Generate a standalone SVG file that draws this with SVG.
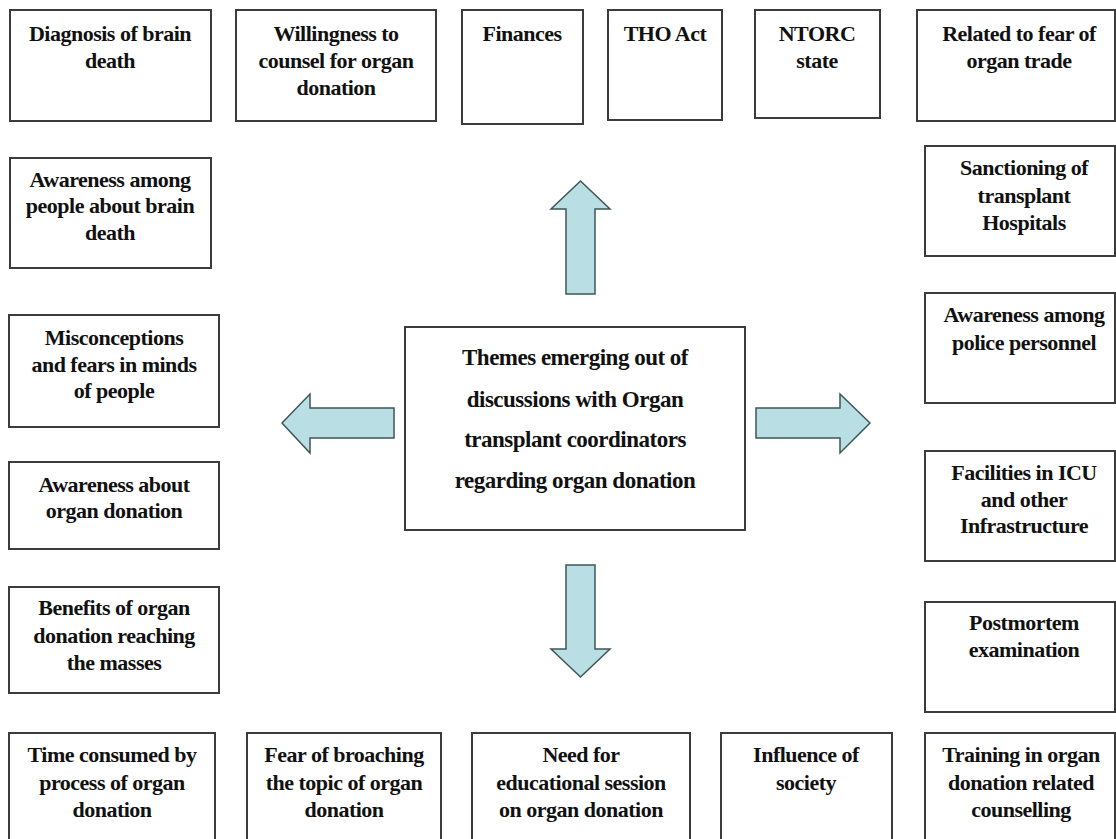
<svg xmlns="http://www.w3.org/2000/svg" width="1116" height="839" viewBox="0 0 1116 839">
<style>
.box{fill:#ffffff;stroke:#3c3c3c;stroke-width:2}
.t{font-family:"Liberation Serif","Times New Roman",serif;font-weight:bold;font-size:22px;letter-spacing:-0.5px;fill:#111;text-anchor:middle}
.c{font-size:23px}
.arr{fill:#b9dfe4;stroke:#3f5656;stroke-width:1.5;stroke-linejoin:miter}
</style>
<rect width="1116" height="839" fill="#ffffff"/>
<g id="n-diagnosis"><rect class="box" x="10" y="10" width="201" height="111"/><text class="t" x="110" y="41">Diagnosis of brain</text><text class="t" x="110" y="68">death</text></g>
<g id="n-willingness"><rect class="box" x="236" y="10" width="200" height="111"/><text class="t" x="336" y="41">Willingness to</text><text class="t" x="336" y="68">counsel for organ</text><text class="t" x="336" y="95">donation</text></g>
<g id="n-finances"><rect class="box" x="462" y="10" width="121" height="114"/><text class="t" x="522" y="41">Finances</text></g>
<g id="n-tho"><rect class="box" x="608" y="10" width="114" height="110"/><text class="t" x="665" y="41">THO Act</text></g>
<g id="n-ntorc"><rect class="box" x="755" y="10" width="125" height="108"/><text class="t" x="817" y="41">NTORC</text><text class="t" x="817" y="68">state</text></g>
<g id="n-trade"><rect class="box" x="917" y="10" width="198" height="111"/><text class="t" x="1019" y="41">Related to fear of</text><text class="t" x="1019" y="68">organ trade</text></g>
<g id="n-awareness-people"><rect class="box" x="10" y="158" width="201" height="110"/><text class="t" x="110" y="187">Awareness among</text><text class="t" x="110" y="213">people about brain</text><text class="t" x="110" y="240">death</text></g>
<g id="n-sanctioning"><rect class="box" x="925" y="146" width="190" height="110"/><text class="t" x="1024" y="175">Sanctioning of</text><text class="t" x="1024" y="203">transplant</text><text class="t" x="1024" y="230">Hospitals</text></g>
<g id="n-misconceptions"><rect class="box" x="9" y="315" width="210" height="112"/><text class="t" x="114" y="345">Misconceptions</text><text class="t" x="114" y="372">and fears in minds</text><text class="t" x="114" y="398">of people</text></g>
<g id="n-police"><rect class="box" x="925" y="293" width="190" height="110"/><text class="t" x="1024" y="322">Awareness among</text><text class="t" x="1024" y="350">police personnel</text></g>
<g id="n-center"><rect class="box" x="405" y="327" width="340" height="203"/><text class="t c" x="575" y="365">Themes emerging out of</text><text class="t c" x="575" y="407">discussions with Organ</text><text class="t c" x="575" y="447">transplant coordinators</text><text class="t c" x="575" y="488">regarding organ donation</text></g>
<g id="n-awareness-donation"><rect class="box" x="9" y="462" width="210" height="87"/><text class="t" x="114" y="492">Awareness about</text><text class="t" x="114" y="518">organ donation</text></g>
<g id="n-facilities"><rect class="box" x="925" y="451" width="190" height="110"/><text class="t" x="1024" y="480">Facilities in ICU</text><text class="t" x="1024" y="507">and other</text><text class="t" x="1024" y="533">Infrastructure</text></g>
<g id="n-benefits"><rect class="box" x="9" y="587" width="210" height="106"/><text class="t" x="114" y="615">Benefits of organ</text><text class="t" x="114" y="643">donation reaching</text><text class="t" x="114" y="670">the masses</text></g>
<g id="n-postmortem"><rect class="box" x="925" y="602" width="190" height="110"/><text class="t" x="1024" y="630">Postmortem</text><text class="t" x="1024" y="657">examination</text></g>
<g id="n-time"><rect class="box" x="9" y="733" width="206" height="115"/><text class="t" x="112" y="762">Time consumed by</text><text class="t" x="112" y="790">process of organ</text><text class="t" x="112" y="817">donation</text></g>
<g id="n-fear"><rect class="box" x="247" y="733" width="194" height="115"/><text class="t" x="344" y="762">Fear of broaching</text><text class="t" x="344" y="790">the topic of organ</text><text class="t" x="344" y="817">donation</text></g>
<g id="n-need"><rect class="box" x="472" y="733" width="218" height="115"/><text class="t" x="581" y="762">Need for</text><text class="t" x="581" y="790">educational session</text><text class="t" x="581" y="817">on organ donation</text></g>
<g id="n-influence"><rect class="box" x="721" y="733" width="171" height="115"/><text class="t" x="806" y="762">Influence of</text><text class="t" x="806" y="790">society</text></g>
<g id="n-training"><rect class="box" x="925" y="733" width="190" height="115"/><text class="t" x="1021" y="762">Training in organ</text><text class="t" x="1021" y="790">donation related</text><text class="t" x="1021" y="817">counselling</text></g>
<g id="connectors">
<polygon class="arr" points="580.5,181 610,209 595,209 595,294 566,294 566,209 551,209"/>
<polygon class="arr" points="580.5,677 610,649 595,649 595,565 566,565 566,649 551,649"/>
<polygon class="arr" points="282,423 310,394 310,408 394,408 394,438 310,438 310,453"/>
<polygon class="arr" points="870,423 840,394 840,408 756,408 756,438 840,438 840,453"/>
</g>
</svg>
